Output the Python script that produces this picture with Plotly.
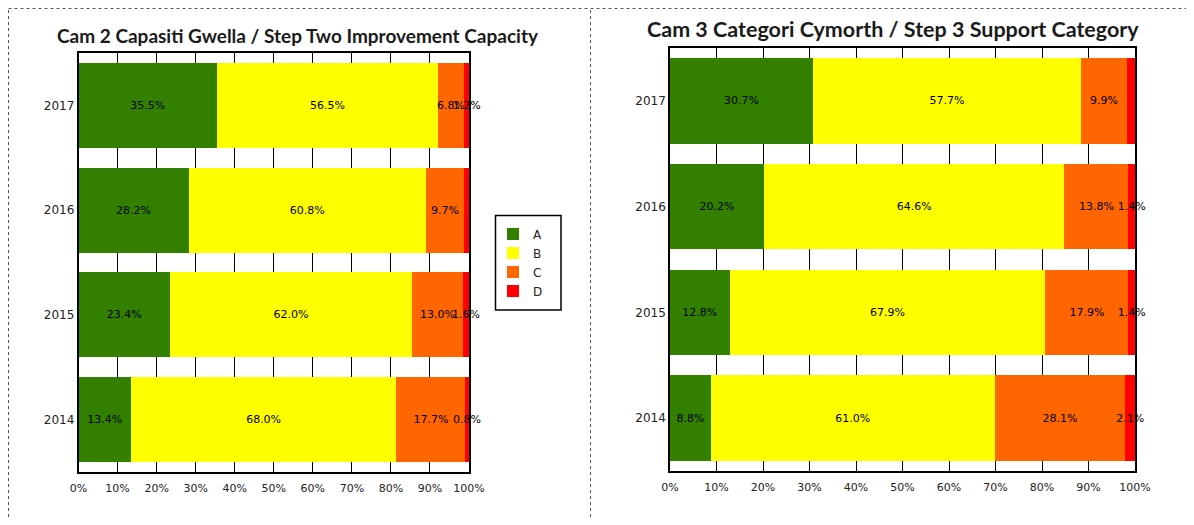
import plotly.graph_objects as go

W, H = 1194, 525
OFF = 8                      # default page body margin
FW, FH = W - 2 * OFF, H - 2 * OFF

years = ["2014", "2015", "2016", "2017"]
categories = ["A", "B", "C", "D"]
colors = ["#338000", "#FFFF00", "#FF6600", "#FF0000"]

# Step Two Improvement Capacity (left chart), per category, years 2014..2017
left_A = [13.4, 23.4, 28.2, 35.5]
left_B = [68.0, 62.0, 60.8, 56.5]
left_C = [17.7, 13.0, 9.7, 6.8]
left_D = [0.8, 1.6, 1.4, 1.2]

# Step 3 Support Category (right chart)
right_A = [8.8, 12.8, 20.2, 30.7]
right_B = [61.0, 67.9, 64.6, 57.7]
right_C = [28.1, 17.9, 13.8, 9.9]
right_D = [2.1, 1.4, 1.4, 1.7]

tick_vals = [0, 10, 20, 30, 40, 50, 60, 70, 80, 90, 100]
tick_text = ["0%", "10%", "20%", "30%", "40%", "50%", "60%", "70%", "80%", "90%", "100%"]

title_left = "Cam 2 Capasiti Gwella / Step Two Improvement Capacity"
title_right = "Cam 3 Categori Cymorth / Step 3 Support Category"

FONT = "DejaVu Sans"
TFONT = "Lato"


def fx(px):
    return (px - OFF) / FW


def fy(py):
    return 1 - (py - OFF) / FH


fig = go.Figure()

left_series = [left_A, left_B, left_C, left_D]
right_series = [right_A, right_B, right_C, right_D]

for side, series in (("L", left_series), ("R", right_series)):
    for i, cat in enumerate(categories):
        fig.add_trace(go.Bar(
            x=series[i], y=years, orientation="h", name=cat,
            marker=dict(color=colors[i], line=dict(width=0)),
            texttemplate="%{x:.1f}%", textposition="inside", insidetextanchor="middle",
            textangle=0, constraintext="none", cliponaxis=False,
            textfont=dict(family=FONT, size=11, color="black"),
            xaxis="x" if side == "L" else "x2", yaxis="y" if side == "L" else "y2",
            showlegend=(side == "L"), legendgroup=cat,
        ))


def xax(domain, anchor, so):
    return dict(domain=domain, anchor=anchor, range=[0, 100], tickmode="array",
                tickvals=tick_vals, ticktext=tick_text, showgrid=True,
                gridcolor="black", gridwidth=1, showline=True, mirror=True,
                linecolor="black", linewidth=1.5, ticks="", zeroline=False,
                ticklabelstandoff=so,
                tickfont=dict(family=FONT, size=11, color="#222"), fixedrange=True)


def yax(domain, anchor):
    return dict(domain=domain, anchor=anchor, type="category",
                categoryorder="array", categoryarray=years, showgrid=False,
                showline=True, mirror=True, linecolor="black", linewidth=1.5,
                ticks="", ticklabelstandoff=0,
                tickfont=dict(family=FONT, size=12, color="#222"),
                fixedrange=True)


fig.update_layout(
    width=FW, height=FH, margin=dict(l=0, r=0, t=0, b=0, autoexpand=False),
    paper_bgcolor="white", plot_bgcolor="white",
    barmode="stack", bargap=0.19,
    uniformtext=dict(mode="show", minsize=11),
    xaxis=xax([fx(78.5), fx(469)], "y", 5),
    yaxis=yax([fy(472), fy(53)], "x"),
    xaxis2=xax([fx(670), fx(1135)], "y2", 5),
    yaxis2=yax([fy(471), fy(48)], "x2"),
    showlegend=True,
    legend=dict(x=fx(493), y=fy(219.5), xanchor="left", yanchor="top",
                bgcolor="rgba(0,0,0,0)", borderwidth=0, traceorder="normal",
                font=dict(family=FONT, size=12, color="#222")),
)

fig.add_annotation(text="<b>" + title_left + "</b>", x=fx(298), y=fy(36),
                   xref="paper", yref="paper", showarrow=False,
                   xanchor="center", yanchor="middle",
                   font=dict(family=TFONT, size=19, color="#1a1a1a"))
fig.add_annotation(text="<b>" + title_right + "</b>", x=fx(893), y=fy(29),
                   xref="paper", yref="paper", showarrow=False,
                   xanchor="center", yanchor="middle",
                   font=dict(family=TFONT, size=21.5, color="#1a1a1a"))

# legend frame
fig.add_shape(type="rect", xref="paper", yref="paper",
              x0=fx(495.5), x1=fx(561), y0=fy(310), y1=fy(215.5),
              line=dict(color="black", width=1.5), fillcolor="rgba(0,0,0,0)")

# dotted panel borders
dot = dict(color="#555", width=1, dash="dot")
fig.add_shape(type="line", xref="paper", yref="paper", x0=fx(8.5), x1=1, y0=fy(8.5), y1=fy(8.5), line=dot)
fig.add_shape(type="line", xref="paper", yref="paper", x0=fx(8.5), x1=fx(8.5), y0=0, y1=fy(8.5), line=dot)
fig.add_shape(type="line", xref="paper", yref="paper", x0=fx(590.5), x1=fx(590.5), y0=0, y1=fy(8.5), line=dot)

fig.write_html("out.html")
